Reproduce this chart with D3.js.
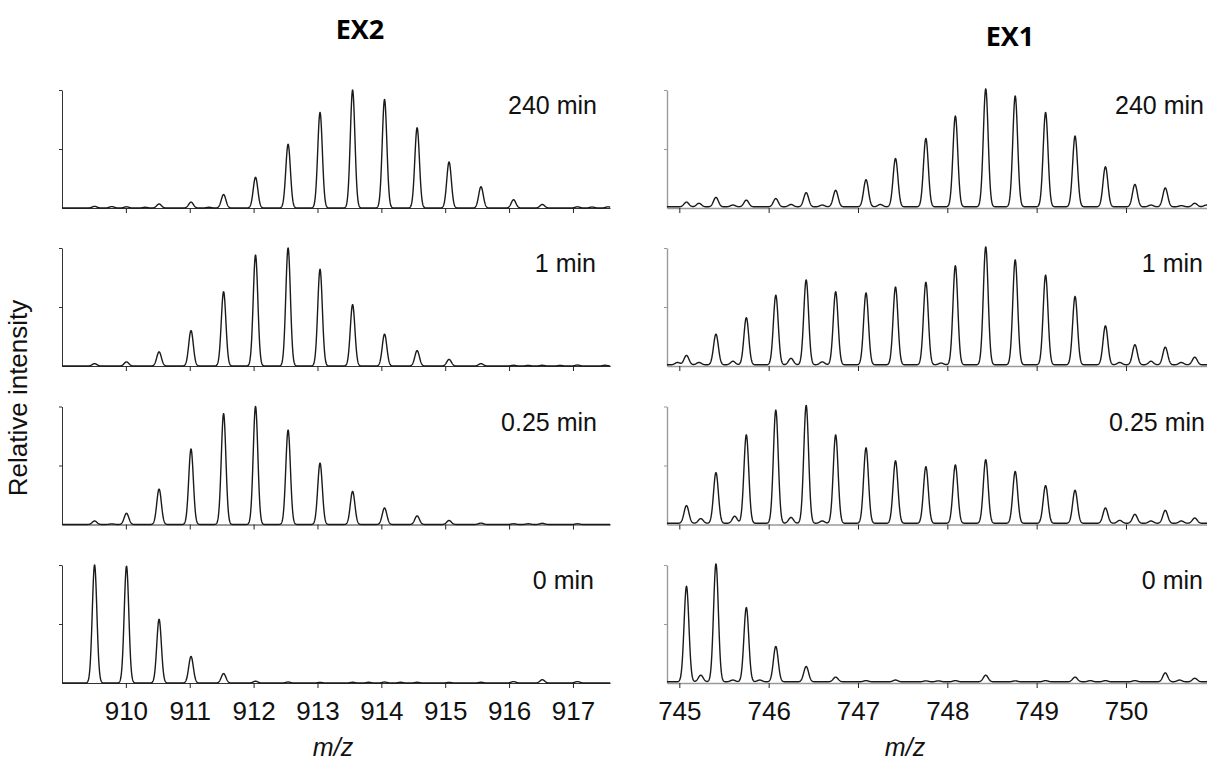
<!DOCTYPE html>
<html><head><meta charset="utf-8">
<script src="https://cdn.jsdelivr.net/npm/d3@7"></script>
<style>body{margin:0;background:#fff}svg{display:block}</style>
</head><body>
<svg id="c" width="1207" height="761"></svg>
<script>
// ---------- data ----------
const timeLabels = ["240 min", "1 min", "0.25 min", "0 min"];
const panelTitles = ["EX2", "EX1"];

// EX2 (charge 2+) isotope peak positions, m/z
const ex2Mz = [909.51, 910.01, 910.52, 911.02, 911.53, 912.03, 912.54, 913.04, 913.55, 914.05, 914.56, 915.06, 915.56, 916.07, 916.52, 917.07];
const ex2_240 = [0.014, 0.01, 0.034, 0.05, 0.114, 0.26, 0.54, 0.81, 1.0, 0.92, 0.68, 0.39, 0.18, 0.07, 0.03, 0.01];
const ex2_1   = [0.02, 0.035, 0.12, 0.30, 0.63, 0.94, 1.0, 0.82, 0.52, 0.27, 0.13, 0.056, 0.02, 0.006, 0.006, 0.008];
const ex2_025 = [0.03, 0.095, 0.30, 0.64, 0.94, 1.0, 0.80, 0.52, 0.28, 0.14, 0.073, 0.034, 0.012, 0.006, 0.01, 0.006];
const ex2_0   = [1.0, 0.99, 0.54, 0.225, 0.08, 0.015, 0.008, 0.005, 0.006, 0.008, 0.006, 0.005, 0.006, 0.012, 0.028, 0.012];
// small baseline bumps [m/z, height]
const ex2Minor240 = [[909.78, 0.012], [910.3, 0.006], [911.3, 0.006], [917.3, 0.008], [917.55, 0.01]];
const ex2Minor1   = [[916.3, 0.005], [916.8, 0.005], [917.5, 0.006]];
const ex2Minor025 = [[909.78, 0.005], [916.3, 0.006]];
const ex2Minor0   = [[913.8, 0.006], [914.3, 0.006]];

// EX1 (charge 3+) isotope peak positions, m/z
const ex1Mz = [745.08, 745.41, 745.75, 746.08, 746.42, 746.75, 747.09, 747.42, 747.76, 748.09, 748.43, 748.76, 749.10, 749.43, 749.77, 750.10, 750.44, 750.77];
const ex1_240 = [0.04, 0.08, 0.057, 0.07, 0.12, 0.14, 0.23, 0.41, 0.58, 0.77, 1.0, 0.94, 0.80, 0.60, 0.34, 0.19, 0.16, 0.03];
const ex1_1   = [0.08, 0.26, 0.40, 0.59, 0.72, 0.62, 0.61, 0.66, 0.70, 0.84, 1.0, 0.89, 0.76, 0.58, 0.33, 0.17, 0.15, 0.065];
const ex1_025 = [0.15, 0.43, 0.75, 0.96, 1.0, 0.75, 0.64, 0.53, 0.48, 0.495, 0.54, 0.44, 0.32, 0.28, 0.13, 0.076, 0.11, 0.045];
const ex1_0   = [0.81, 1.0, 0.63, 0.30, 0.13, 0.04, 0.01, 0.015, 0.008, 0.01, 0.056, 0.008, 0.01, 0.04, 0.01, 0.01, 0.076, 0.03];
const ex1Minor240 = [[745.22, 0.03], [745.6, 0.015], [746.25, 0.02], [746.6, 0.015], [747.25, 0.02], [750.28, 0.015], [750.62, 0.01], [750.9, 0.015]];
const ex1Minor1   = [[744.98, 0.02], [745.22, 0.02], [745.6, 0.03], [746.25, 0.055], [746.6, 0.025], [747.93, 0.015], [749.93, 0.02], [750.28, 0.03], [750.62, 0.02]];
const ex1Minor025 = [[745.24, 0.04], [745.62, 0.06], [746.25, 0.05], [746.6, 0.02], [749.93, 0.025], [750.28, 0.02], [750.62, 0.02]];
const ex1Minor0   = [[745.24, 0.056], [745.6, 0.015], [745.9, 0.015], [747.9, 0.008], [749.6, 0.01], [750.6, 0.015]];

const ex2Ticks = [910, 911, 912, 913, 914, 915, 916, 917];
const ex1Ticks = [745, 746, 747, 748, 749, 750];

// ---------- layout ----------
const svg = d3.select("#c");
const FONT = "'Liberation Sans', Arial, sans-serif";
const panelTops = [90, 248, 406.5, 565];
const panelH = 118;

const columns = [
  { title: panelTitles[0], titleX: 360, titleY: 39, mz: ex2Mz,
    series: [ex2_240, ex2_1, ex2_025, ex2_0],
    minor: [ex2Minor240, ex2Minor1, ex2Minor025, ex2Minor0],
    domain: [909, 917.58], range: [62, 610], ticks: ex2Ticks,
    sigma: 0.036, axisColor: "#333", axisW: 1, base: 0,
    labelEnd: [597, 596, 597, 594], xlabelX: 333 },
  { title: panelTitles[1], titleX: 1010, titleY: 46, mz: ex1Mz,
    series: [ex1_240, ex1_1, ex1_025, ex1_0],
    minor: [ex1Minor240, ex1Minor1, ex1Minor025, ex1Minor0],
    domain: [744.862, 750.963], range: [667, 1212], ticks: ex1Ticks,
    sigma: 0.027, axisColor: "#9a9a9a", axisW: 1.4, base: 0.01,
    labelEnd: [1204, 1203, 1205, 1203], xlabelX: 905 }
];

columns.forEach(col => {
  const x = d3.scaleLinear().domain(col.domain).range(col.range);
  svg.append("text").attr("x", col.titleX).attr("y", col.titleY)
    .attr("text-anchor", "middle")
    .style("font-family", "'Open Sans', 'Noto Sans', sans-serif")
    .style("font-weight", 700).style("font-size", "27px").text(col.title);

  col.series.forEach((vals, i) => {
    const top = panelTops[i], bottom = top + panelH;
    const y = d3.scaleLinear().domain([0, 1]).range([bottom, top]);
    const g = svg.append("g");

    // x axis
    const xa = d3.axisBottom(x).tickValues(col.ticks).tickSize(5).tickSizeOuter(0)
      .tickFormat(i === 3 ? d3.format("d") : () => "");
    const xg = g.append("g").attr("transform", `translate(0,${bottom})`).call(xa);
    xg.select(".domain").attr("stroke", col.axisColor).attr("stroke-width", col.axisW);
    xg.selectAll(".tick line").attr("stroke", "#222").attr("stroke-width", 1);
    xg.selectAll(".tick text").attr("dy", "0").attr("y", 37)
      .style("font-family", FONT).style("font-size", "26px").attr("fill", "#111");

    // y axis
    const ya = d3.axisLeft(y).tickValues([0.5, 1]).tickSize(3).tickSizeOuter(0).tickFormat(() => "");
    const yg = g.append("g").attr("transform", `translate(${col.range[0]},0)`).call(ya);
    yg.select(".domain").attr("stroke", col.axisColor).attr("stroke-width", col.axisW);
    yg.selectAll(".tick line").attr("stroke", col.axisColor);

    // spectrum trace: peak list rendered with a narrow peak profile
    const peaks = col.mz.map((m, k) => [m, vals[k]]).concat(col.minor[i]);
    const step = 0.003;
    const pts = d3.range(col.domain[0], col.domain[1] + step, step).map(m => {
      let s = col.base;
      peaks.forEach(p => { const d = (m - p[0]) / col.sigma; if (Math.abs(d) < 6) s += p[1] * Math.exp(-0.5 * d * d); });
      return [m, s];
    });
    g.append("path").datum(pts)
      .attr("d", d3.line().x(d => x(d[0])).y(d => y(d[1])))
      .attr("fill", "none").attr("stroke", "#1a1a1a").attr("stroke-width", 1.4)
      .attr("stroke-linejoin", "round");

    // time label
    svg.append("text").attr("x", col.labelEnd[i]).attr("y", top + 24)
      .attr("text-anchor", "end").style("font-family", FONT).style("font-size", "25px")
      .attr("fill", "#111").text(timeLabels[i]);
  });

  // m/z label
  const xl = svg.append("text").attr("x", col.xlabelX).attr("y", 756).attr("text-anchor", "middle")
    .style("font-family", FONT).style("font-size", "25px").attr("fill", "#111");
  xl.append("tspan").style("font-style", "italic").text("m/z");
});

// y label
svg.append("text").attr("transform", "translate(27,398) rotate(-90)")
  .attr("text-anchor", "middle").style("font-family", FONT).style("font-size", "26px")
  .attr("fill", "#111").text("Relative intensity");
</script>
</body></html>
